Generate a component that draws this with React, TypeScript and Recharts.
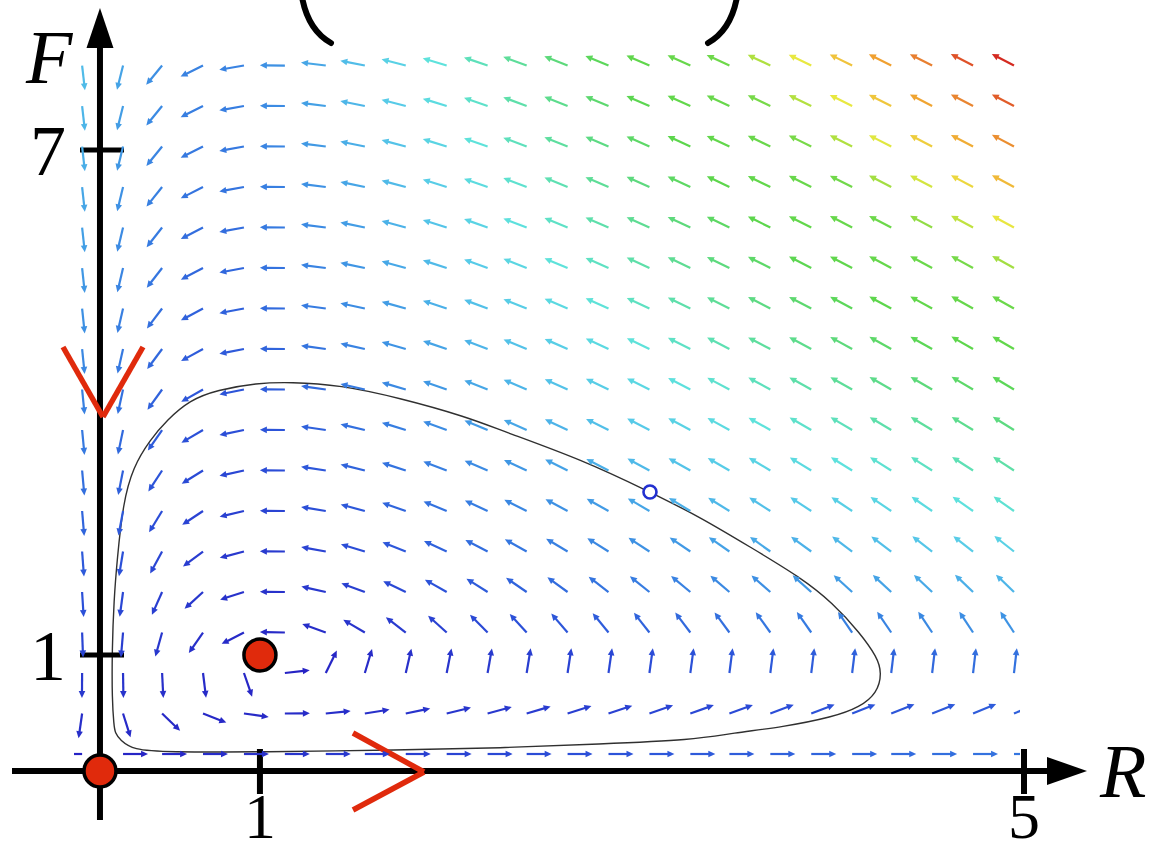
import React from 'react'
import {
  ComposedChart,
  XAxis,
  YAxis,
  Scatter,
  Line,
  ReferenceLine,
  ReferenceDot,
  ReferenceArea
} from 'recharts'

// ---- data ----

// grid of the direction field: R across, F up
const gridR = [
  -0.08, 0.14, 0.35, 0.57, 0.79, 1.01, 1.23, 1.44, 1.66, 1.88, 2.1, 2.31,
  2.53, 2.75, 2.97, 3.19, 3.4, 3.62, 3.84, 4.06, 4.27, 4.49, 4.71, 4.93
]
const gridF = [
  0, 0.475, 0.95, 1.425, 1.9, 2.375, 2.85, 3.325, 3.8, 4.275, 4.75, 5.225,
  5.7, 6.175, 6.65, 7.125, 7.6, 8.075
]

// predator-prey rates, fitted to the arrow directions
// R' = rateR * R * (1 - F),  F' = rateF * F * (R - 1)
const rateR = 0.8
const rateF = 1

// the closed orbit, traced point by point (loop closes on itself)
const orbitR = [
  1.038, 0.86, 0.645, 0.5, 0.376, 0.285, 0.194, 0.14, 0.108, 0.091, 0.081,
  0.081, 0.091, 0.097, 0.124, 0.194, 0.376, 0.876, 1.629, 2.167, 2.704,
  3.204, 3.419, 3.688, 3.957, 4.102, 4.194, 4.22, 4.194, 4.102, 3.957, 3.78,
  3.511, 3.242, 2.973, 2.613, 2.167, 1.989, 1.629, 1.306
]
const orbitF = [
  4.363, 4.351, 4.269, 4.152, 3.917, 3.683, 3.366, 2.944, 2.275, 1.806, 1.22,
  0.633, 0.34, 0.246, 0.164, 0.047, 0.023, 0.023, 0.047, 0.07, 0.117, 0.164,
  0.246, 0.317, 0.434, 0.551, 0.715, 0.95, 1.138, 1.419, 1.771, 2.076, 2.428,
  2.78, 3.073, 3.448, 3.8, 3.953, 4.175, 4.328
]

// fixed points (red) and the marked state on the orbit (blue ring)
const fixedR = [0.016, 0.876]
const fixedF = [-0.199, 1.161]
const markR = 2.973
const markF = 3.073

// hand-drawn axes
const axisAtR = 0.016
const axisAtF = -0.199
const xTickValues = [0.876, 4.984]
const xTickLabels = ['1', '5']
const yTickValues = [1.161, 7.084]
const yTickLabels = ['1', '7']

// ---- layout ----
const W = 1161
const H = 856
const PX_PER_R = 186
const PX_PER_F = 85.26
const ORIGIN_X = 97
const ORIGIN_Y = 754
const xDomain = [-ORIGIN_X / PX_PER_R, (W - ORIGIN_X) / PX_PER_R]
const yDomain = [-(H - ORIGIN_Y) / PX_PER_F, ORIGIN_Y / PX_PER_F]

const RED = '#e02a0c'
const INK = '#000'
const SERIF = '"Liberation Serif", "DejaVu Serif", serif'

// speed -> colour, a washed-out jet
const speedStops: [number, string][] = [
  [0, '#2622c4'],
  [2, '#2b4fd8'],
  [4, '#3577e0'],
  [6, '#3f95e4'],
  [8, '#4cb2e8'],
  [10, '#57cae8'],
  [12.8, '#5ee2dc'],
  [16, '#5edfa6'],
  [19, '#5dd97a'],
  [22, '#5cd64c'],
  [27.3, '#6ed84a'],
  [29.5, '#b0e040'],
  [31.6, '#e8e840'],
  [33.7, '#f0c43c'],
  [35.8, '#f0a030'],
  [37.9, '#e88030'],
  [40, '#e05428'],
  [42.2, '#d42a20']
]

const hexToRgb = (h: string) => [1, 3, 5].map((i) => parseInt(h.slice(i, i + 2), 16))

const speedColor = (m: number) => {
  if (m <= speedStops[0][0]) return speedStops[0][1]
  for (let i = 1; i < speedStops.length; i++) {
    const [m1, c1] = speedStops[i]
    if (m <= m1) {
      const [m0, c0] = speedStops[i - 1]
      const t = (m - m0) / (m1 - m0)
      const a = hexToRgb(c0)
      const b = hexToRgb(c1)
      const rgb = a.map((v, k) => Math.round(v + (b[k] - v) * t))
      return `rgb(${rgb.join(',')})`
    }
  }
  return speedStops[speedStops.length - 1][1]
}

const fieldData = gridF.flatMap((F) =>
  gridR.map((R) => {
    const dR = rateR * R * (1 - F)
    const dF = rateF * F * (R - 1)
    return { R, F, dR, dF, speed: Math.hypot(dR, dF) }
  })
)

const orbitData = orbitR.map((R, i) => ({ R, F: orbitF[i] }))

const FieldArrow = (props: any) => {
  const { cx, cy, payload } = props
  const dx = payload.dR * PX_PER_R
  const dy = -payload.dF * PX_PER_F
  const len = Math.hypot(dx, dy)
  if (!len) return <g />
  const ux = dx / len
  const uy = dy / len
  const L = 25
  const head = 7
  const half = 3.3
  const tipX = cx + ux * L
  const tipY = cy + uy * L
  const bx = tipX - ux * head
  const by = tipY - uy * head
  const color = speedColor(payload.speed)
  return (
    <g clipPath="url(#field-clip)">
      <line x1={cx} y1={cy} x2={bx + ux} y2={by + uy} stroke={color} strokeWidth={2.2} />
      <polygon
        points={`${tipX},${tipY} ${bx - uy * half},${by + ux * half} ${bx + uy * half},${by - ux * half}`}
        fill={color}
      />
    </g>
  )
}

const FieldClip = (props: any) => (
  <defs>
    <clipPath id="field-clip">
      <rect x={props.x} y={props.y} width={props.width} height={props.height} />
    </clipPath>
  </defs>
)

const textShape =
  (label: string, opts: { dx?: number; dy?: number; anchor?: string; size?: number; italic?: boolean }) =>
  (props: any) => (
    <text
      x={props.cx + (opts.dx || 0)}
      y={props.cy + (opts.dy || 0)}
      textAnchor={opts.anchor || 'middle'}
      fontFamily={SERIF}
      fontSize={opts.size || 70}
      fontStyle={opts.italic ? 'italic' : 'normal'}
      fill={INK}
    >
      {label}
    </text>
  )

const upHead = (props: any) => (
  <polygon
    points={`${props.cx},${props.cy} ${props.cx - 13.5},${props.cy + 40} ${props.cx + 13.5},${props.cy + 40}`}
    fill={INK}
  />
)

const rightHead = (props: any) => (
  <polygon
    points={`${props.cx},${props.cy} ${props.cx - 40},${props.cy - 14} ${props.cx - 40},${props.cy + 14}`}
    fill={INK}
  />
)

const parenShape = (side: 'left' | 'right') => (props: any) => {
  const s = side === 'left' ? -1 : 1
  const { cx, cy } = props
  return (
    <path
      d={`M ${cx + s * 29} ${cy - 46} Q ${cx + s * 23} ${cy - 13} ${cx} ${cy}`}
      fill="none"
      stroke={INK}
      strokeWidth={6}
      strokeLinecap="round"
    />
  )
}

const fixedDot = (props: any) => (
  <circle cx={props.cx} cy={props.cy} r={16} fill={RED} stroke={INK} strokeWidth={3.5} />
)

const markDot = (props: any) => (
  <circle cx={props.cx} cy={props.cy} r={6.5} fill="#fff" stroke="#2230d0" strokeWidth={2.6} />
)

const pxR = (x: number) => (x - ORIGIN_X) / PX_PER_R
const pxF = (y: number) => (ORIGIN_Y - y) / PX_PER_F

export default function App() {
  return (
    <div style={{ position: 'absolute', left: 0, top: 0, background: '#fff' }}>
      <ComposedChart width={W} height={H} margin={{ top: 0, right: 0, bottom: 0, left: 0 }}>
        <XAxis type="number" dataKey="R" domain={xDomain} allowDataOverflow hide />
        <YAxis type="number" dataKey="F" domain={yDomain} allowDataOverflow hide />

        <ReferenceArea
          x1={pxR(74)}
          x2={pxR(1020)}
          y1={pxF(762)}
          y2={pxF(46)}
          shape={FieldClip}
          ifOverflow="visible"
        />

        <Scatter data={fieldData} shape={FieldArrow} isAnimationActive={false} />

        <Line
          data={orbitData}
          dataKey="F"
          type="basisClosed"
          stroke="#303030"
          strokeWidth={1.4}
          dot={false}
          activeDot={false}
          isAnimationActive={false}
        />

        {/* axes */}
        <ReferenceLine
          segment={[{ x: axisAtR, y: pxF(820) }, { x: axisAtR, y: pxF(40) }]}
          stroke={INK}
          strokeWidth={6}
          ifOverflow="visible"
        />
        <ReferenceLine
          segment={[{ x: pxR(12), y: axisAtF }, { x: pxR(1052), y: axisAtF }]}
          stroke={INK}
          strokeWidth={6}
          ifOverflow="visible"
        />
        <ReferenceDot x={axisAtR} y={pxF(8)} shape={upHead} ifOverflow="visible" />
        <ReferenceDot x={pxR(1087)} y={axisAtF} shape={rightHead} ifOverflow="visible" />

        {xTickValues.map((v) => (
          <ReferenceLine
            key={`xt${v}`}
            segment={[{ x: v, y: pxF(749) }, { x: v, y: pxF(794) }]}
            stroke={INK}
            strokeWidth={6}
            ifOverflow="visible"
          />
        ))}
        {yTickValues.map((v) => (
          <ReferenceLine
            key={`yt${v}`}
            segment={[{ x: pxR(80), y: v }, { x: pxR(124), y: v }]}
            stroke={INK}
            strokeWidth={5}
            ifOverflow="visible"
          />
        ))}
        {xTickValues.map((v, i) => (
          <ReferenceDot
            key={`xl${v}`}
            x={v}
            y={axisAtF}
            shape={textShape(xTickLabels[i], { dy: 67, size: 64 })}
            ifOverflow="visible"
          />
        ))}
        {yTickValues.map((v, i) => (
          <ReferenceDot
            key={`yl${v}`}
            x={axisAtR}
            y={v}
            shape={textShape(yTickLabels[i], { dx: -34, dy: 25, anchor: 'end', size: 72 })}
            ifOverflow="visible"
          />
        ))}
        <ReferenceDot
          x={axisAtR}
          y={pxF(83)}
          shape={textShape('F', { dx: -74, anchor: 'start', size: 76, italic: true })}
          ifOverflow="visible"
        />
        <ReferenceDot
          x={pxR(1100)}
          y={axisAtF}
          shape={textShape('R', { dy: 26, anchor: 'start', size: 76, italic: true })}
          ifOverflow="visible"
        />

        {/* flow direction on the axes */}
        <ReferenceLine
          segment={[{ x: pxR(63), y: pxF(347) }, { x: pxR(103), y: pxF(417) }]}
          stroke={RED}
          strokeWidth={5.5}
          ifOverflow="visible"
        />
        <ReferenceLine
          segment={[{ x: pxR(103), y: pxF(417) }, { x: pxR(143), y: pxF(347) }]}
          stroke={RED}
          strokeWidth={5.5}
          ifOverflow="visible"
        />
        <ReferenceLine
          segment={[{ x: pxR(353), y: pxF(733) }, { x: pxR(424), y: pxF(772) }]}
          stroke={RED}
          strokeWidth={5.5}
          ifOverflow="visible"
        />
        <ReferenceLine
          segment={[{ x: pxR(424), y: pxF(772) }, { x: pxR(353), y: pxF(810) }]}
          stroke={RED}
          strokeWidth={5.5}
          ifOverflow="visible"
        />

        {/* cut-off bracket at the top */}
        <ReferenceDot x={pxR(331)} y={pxF(43)} shape={parenShape('left')} ifOverflow="visible" />
        <ReferenceDot x={pxR(708)} y={pxF(43)} shape={parenShape('right')} ifOverflow="visible" />

        {fixedR.map((r, i) => (
          <ReferenceDot key={`fp${i}`} x={r} y={fixedF[i]} shape={fixedDot} ifOverflow="visible" />
        ))}
        <ReferenceDot x={markR} y={markF} shape={markDot} ifOverflow="visible" />
      </ComposedChart>
    </div>
  )
}
